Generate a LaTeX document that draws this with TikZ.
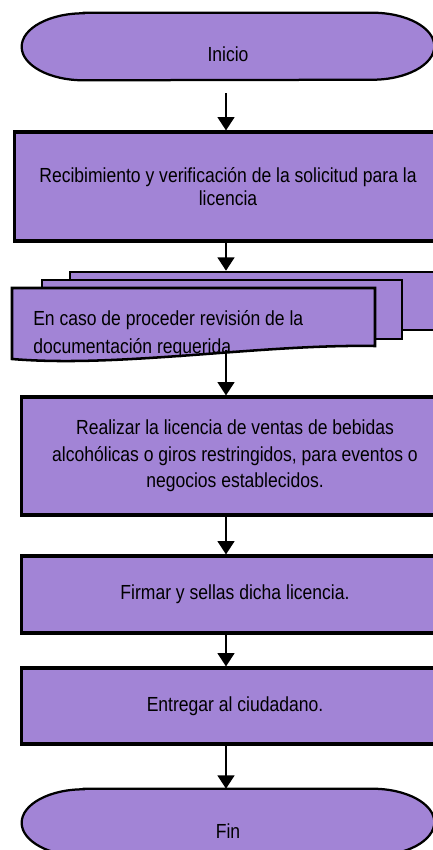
\documentclass[tikz,border=0pt]{standalone}
\usepackage{fontspec}
\setmainfont[FakeStretch=0.86]{Liberation Sans}
\usepackage{tikz}
\usetikzlibrary{arrows.meta,positioning,calc}
\definecolor{lila}{RGB}{162,132,214}

\begin{document}
\begin{tikzpicture}[x=0.025cm, y=-0.025cm, font=\fontsize{14.5}{19}\selectfont,
    caja/.style={draw=black, line width=2.2pt, fill=lila, minimum width=10.65cm, align=center, inner sep=0pt},
    hoja/.style={draw=black, line width=1.8pt, fill=lila, inner sep=0pt},
    termnodo/.style={inner sep=0pt, minimum width=10.3cm, minimum height=1.675cm},
    terminal/.style={draw=black, line width=1.6pt, fill=lila},
    flecha/.style={-{Triangle[width=12pt,length=9.5pt]}, line width=1.3pt}]
      \path[use as bounding box] (0,0) rectangle (433,850);
      \clip (0,0) rectangle (433,850);
      \coordinate (eje) at (226,0);
      % inicio
      \node[termnodo] (inicio) at (228,46.5) {};
      \draw[terminal] ($(inicio.north west)+(62,0)$) -- ($(inicio.north east)+(-62,0)$)
        arc[start angle=90, end angle=-90, x radius=1.55cm, y radius=0.8375cm]
        -- ($(inicio.south west)+(62,0)$)
        arc[start angle=270, end angle=90, x radius=1.55cm, y radius=0.8375cm] -- cycle;
      \node (inicio-txt) at ($(inicio.center)+(0,8)$) {Inicio};
      % pasos
      \node[caja, minimum height=2.725cm, font=\fontsize{14.5}{16.5}\selectfont] (recibir) at (228,186.5)
        {Recibimiento y verificación de la solicitud para la\\licencia};
      % documentos
      \node[hoja, minimum width=9.25cm, minimum height=1.45cm] (hoja3) at (255,301) {};
      \node[hoja, minimum width=9cm, minimum height=1.475cm] (hoja2) at (222,309.5) {};
      \draw[hoja] (12,288) -- (375,288) -- (375,346)
        .. controls (260,344) and (120,368) .. (12,359) -- cycle;
      \node[anchor=west, align=left, inner sep=0pt, font=\fontsize{14.5}{20}\selectfont] (revision) at (33,334)
        {En caso de proceder revisión de la\\documentación requerida.};
      \coordinate (hoja1-base) at (226,350);
      \node[caja, minimum height=2.95cm] (realizar) at (235,456)
        {Realizar la licencia de ventas de bebidas\\alcohólicas o giros restringidos, para eventos o\\negocios establecidos.};
      \node[caja, minimum height=1.925cm] (firmar) at (235,594.5) {Firmar y sellas dicha licencia.};
      \node[caja, minimum height=1.9cm] (entregar) at (235,706) {Entregar al ciudadano.};
      % fin
      \node[termnodo] (fin) at (228,822.5) {};
      \draw[terminal] ($(fin.north west)+(62,0)$) -- ($(fin.north east)+(-62,0)$)
        arc[start angle=90, end angle=-90, x radius=1.55cm, y radius=0.8375cm]
        -- ($(fin.south west)+(62,0)$)
        arc[start angle=270, end angle=90, x radius=1.55cm, y radius=0.8375cm] -- cycle;
      \node (fin-txt) at ($(fin.center)+(0,9)$) {Fin};
      % flechas
      \draw[flecha] ($(inicio.south -| eje)+(0,13)$) -- (recibir.north -| eje);
      \draw[flecha] (recibir.south -| eje) -- (hoja3.north -| eje);
      \draw[flecha] (hoja1-base) -- (realizar.north -| eje);
      \draw[flecha] (realizar.south -| eje) -- (firmar.north -| eje);
      \draw[flecha] (firmar.south -| eje) -- (entregar.north -| eje);
      \draw[flecha] (entregar.south -| eje) -- (fin.north -| eje);
\end{tikzpicture}
\end{document}
